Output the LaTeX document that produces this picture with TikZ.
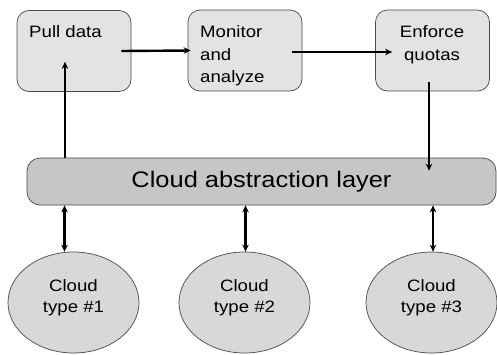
\documentclass[tikz,border=0pt]{standalone}
\usepackage{fontspec}
\setmainfont[FakeStretch=1.13]{Liberation Sans}
\usetikzlibrary{arrows.meta,shapes.geometric}

\definecolor{boxfill}{HTML}{E3E3E3}
\definecolor{layerfill}{HTML}{C6C6C6}
\definecolor{cloudfill}{HTML}{D8D8D8}
\definecolor{edge}{HTML}{4A4A4A}

\tikzset{
  stagebox/.style={draw=edge, line width=0.7pt, fill=boxfill, rounded corners=12pt,
    minimum width=114pt, minimum height=81pt, inner sep=0pt},
  layerbox/.style={draw=edge, line width=0.7pt, fill=layerfill, rounded corners=13pt,
    minimum width=469pt, minimum height=47pt, inner sep=0pt,
    font=\fontsize{22.5}{26}\selectfont},
  cloudnode/.style={ellipse, draw=edge, line width=0.7pt, fill=cloudfill,
    minimum width=131pt, minimum height=101pt, inner sep=0pt},
  cloudtext/.style={inner sep=0pt, align=center, font=\fontsize{16.5}{21}\selectfont},
  boxtext/.style={inner sep=0pt, font=\fontsize{16.5}{22.5}\selectfont},
  arr/.style={line width=2.4pt, -{Stealth[length=7pt,width=6.5pt]}},
  dblarr/.style={line width=2.4pt, {Stealth[length=7pt,width=6.5pt]}-{Stealth[length=7pt,width=6.5pt]}}
}

\begin{document}
\begin{tikzpicture}[x=1pt, y=-1pt]
  \useasboundingbox (0,0) rectangle (497,354);

  % processing stages
  \node[stagebox] (pull) at (74,51) {};
  \node[stagebox] (mon)  at (245,50.5) {};
  \node[stagebox] (enf)  at (432.5,50.5) {};

  \node[boxtext, anchor=north west, align=left] (pulltxt) at (29,25.5) {Pull data};
  \node[boxtext, anchor=north west, align=left] (montxt)  at (200,25.5) {Monitor\\and\\analyze};
  \node[boxtext, anchor=north, align=center] (enftxt) at (432,25.5) {Enforce\\quotas};

  % abstraction layer
  \node[layerbox] (layer) at (261.5,181.5) {Cloud abstraction layer};

  % cloud back ends
  \node[cloudnode, label={[cloudtext, yshift=5pt]center:Cloud\\type \#1}] (c1) at (73.5,302.5) {};
  \node[cloudnode, label={[cloudtext, yshift=5pt]center:Cloud\\type \#2}] (c2) at (244.5,302.5) {};
  \node[cloudnode, label={[cloudtext, yshift=5pt]center:Cloud\\type \#3}] (c3) at (431.5,302.5) {};

  % flow between stages
  \draw[arr] ([xshift=-10pt]pull.east) -- ([xshift=3pt]mon.west);
  \draw[arr] ([xshift=-10pt]mon.east |- 0,52) coordinate (m1) -- ([xshift=17pt]enf.west |- m1);

  % layer to stages
  \coordinate (p0) at (65,0);
  \draw[arr] (layer.north -| p0) -- ([yshift=30pt]pull.south -| p0);
  \coordinate (e0) at (429,0);
  \draw[arr] ([yshift=9pt]enf.south -| e0) -- ([yshift=-13pt]layer.north -| e0);

  % layer to clouds
  \draw[dblarr] ([xshift=-9pt]c1.north |- layer.south) -- ([xshift=-9pt]c1.north);
  \draw[dblarr] ([xshift=1pt]c2.north |- layer.south) -- ([xshift=1pt]c2.north);
  \draw[dblarr] ([xshift=1.5pt]c3.north |- layer.south) -- ([xshift=1.5pt]c3.north);
\end{tikzpicture}
\end{document}
